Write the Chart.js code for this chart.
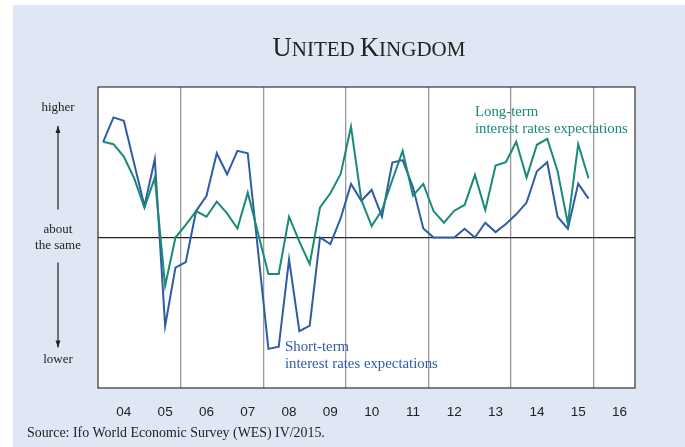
<!DOCTYPE html>
<html>
<head>
<meta charset="utf-8">
<script src="https://cdn.jsdelivr.net/npm/chart.js@4"></script>
<style>
  html, body { margin: 0; padding: 0; background: #ffffff; }
  canvas { display: block; }
</style>
</head>
<body>
<canvas id="chart" width="685" height="447"></canvas>
<script>
// Year tick labels (one per calendar year on the axis)
const yearLabels = ['04', '05', '06', '07', '08', '09', '10', '11', '12', '13', '14', '15', '16'];

// Quarterly WES expectation balances, 2004 Q1 - 2015 Q4
const shortTermRates = [
  31.8, 39.9, 38.8, 24.6, 10.5, 26.0, -29.4, -10.0,
  -8.2, 8.8, 13.8, 28.0, 21.0, 28.8, 28.0, -4.5,
  -37.0, -36.3, -7.3, -31.1, -29.3, 0.0, -2.2, 6.4,
  17.8, 12.2, 15.8, 6.9, 24.9, 25.7, 16.7, 3.0,
  0.0, 0.0, 0.0, 2.9, 0.0, 4.9, 1.8, 4.5,
  7.7, 11.6, 22.0, 25.0, 6.9, 2.9, 17.9, 12.9
];
const longTermRates = [
  31.8, 31.0, 26.9, 19.7, 9.9, 19.9, -16.1, 0.0,
  4.2, 8.8, 6.9, 11.9, 8.0, 3.0, 14.9, 1.4,
  -12.1, -12.1, 6.9, -1.4, -8.9, 10.0, 14.7, 21.1,
  36.8, 12.5, 3.8, 9.1, 19.1, 28.8, 13.9, 17.8,
  8.7, 4.9, 8.9, 10.8, 20.8, 9.1, 23.9, 25.0,
  31.8, 19.9, 30.8, 32.8, 22.1, 4.6, 31.0, 19.7
];

// Verbal y-axis markers and the value each one sits at
const levelLabels = ['lower', ['about', 'the same'], 'higher'];
const levelValues = [-40.5, 0, 43];

const QUARTERS = 4;
const xMin = -0.5;
const xMax = yearLabels.length * QUARTERS - 0.5;

const COL_SHORT = '#2e5ca8';
const COL_LONG = '#178a79';
const SERIF = '"Liberation Serif", "Times New Roman", serif';
const SANS = '"Liberation Sans", Arial, sans-serif';

// Background panel, frame, title, y markers with arrows, series captions and source line
const decor = {
  id: 'decor',
  beforeDraw(chart) {
    const { ctx, chartArea: a, width, height } = chart;
    ctx.save();
    ctx.fillStyle = '#ffffff';
    ctx.fillRect(0, 0, width, height);
    ctx.fillStyle = '#e0e7f4';
    ctx.fillRect(13, 5, width - 13, height - 5);
    ctx.fillStyle = '#ffffff';
    ctx.fillRect(a.left, a.top, a.right - a.left, a.bottom - a.top);
    ctx.restore();
  },
  afterDraw(chart) {
    const { ctx, chartArea: a } = chart;
    const y = chart.scales.y;
    ctx.save();

    // plot frame
    ctx.strokeStyle = '#333333';
    ctx.lineWidth = 1.2;
    ctx.strokeRect(a.left, a.top, a.right - a.left, a.bottom - a.top);

    // title in small capitals
    const parts = [['U', 26.5], ['NITED ', 21], ['K', 26.5], ['INGDOM', 21]];
    let total = 0;
    parts.forEach(([t, s]) => { ctx.font = s + 'px ' + SERIF; total += ctx.measureText(t).width; });
    let tx = 369 - total / 2;
    ctx.fillStyle = '#222222';
    ctx.textBaseline = 'alphabetic';
    ctx.textAlign = 'left';
    parts.forEach(([t, s]) => { ctx.font = s + 'px ' + SERIF; ctx.fillText(t, tx, 56); tx += ctx.measureText(t).width; });

    // verbal markers on the value axis
    const ax = 58;
    ctx.font = '13px ' + SERIF;
    ctx.textAlign = 'center';
    ctx.textBaseline = 'middle';
    ctx.fillStyle = '#222222';
    levelLabels.forEach((lab, i) => {
      const py = y.getPixelForValue(levelValues[i]);
      const lines = Array.isArray(lab) ? lab : [lab];
      const lh = 16;
      lines.forEach((ln, j) => ctx.fillText(ln, ax, py + (j - (lines.length - 1) / 2) * lh));
    });

    // arrows beside the markers
    const arrow = (y0, y1) => {
      ctx.strokeStyle = '#222222';
      ctx.lineWidth = 1.2;
      ctx.beginPath(); ctx.moveTo(ax, y0); ctx.lineTo(ax, y1); ctx.stroke();
      const d = y1 < y0 ? 1 : -1;
      ctx.fillStyle = '#222222';
      ctx.beginPath();
      ctx.moveTo(ax, y1);
      ctx.lineTo(ax - 2.5, y1 + d * 7);
      ctx.lineTo(ax + 2.5, y1 + d * 7);
      ctx.closePath(); ctx.fill();
    };
    const zero = y.getPixelForValue(0);
    arrow(zero - 28, y.getPixelForValue(levelValues[2]) + 18);
    arrow(zero + 25, y.getPixelForValue(levelValues[0]) - 12);

    // series captions
    ctx.font = '14.8px ' + SERIF;
    ctx.textBaseline = 'middle';
    ctx.textAlign = 'left';
    ctx.fillStyle = COL_LONG;
    ctx.fillText('Long-term', 475, 112);
    ctx.fillText('interest rates expectations', 475, 129);
    ctx.fillStyle = COL_SHORT;
    ctx.fillText('Short-term', 285, 347);
    ctx.fillText('interest rates expectations', 285, 364);

    // source line
    ctx.font = '13.9px ' + SERIF;
    ctx.fillStyle = '#222222';
    ctx.fillText('Source: Ifo World Economic Survey (WES) IV/2015.', 27, 433);
    ctx.restore();
  }
};

const toPoints = arr => arr.map((v, i) => ({ x: i, y: v }));

new Chart(document.getElementById('chart'), {
  type: 'line',
  data: {
    datasets: [
      { label: 'Long-term interest rates expectations', data: toPoints(longTermRates),
        borderColor: COL_LONG, borderWidth: 2, pointRadius: 0, tension: 0, fill: false },
      { label: 'Short-term interest rates expectations', data: toPoints(shortTermRates),
        borderColor: COL_SHORT, borderWidth: 2, pointRadius: 0, tension: 0, fill: false }
    ]
  },
  options: {
    responsive: false,
    animation: false,
    devicePixelRatio: 1,
    layout: { padding: { left: 18, top: 87, right: 50, bottom: 29 } },
    plugins: { legend: { display: false }, tooltip: { enabled: false }, title: { display: false } },
    scales: {
      x: {
        type: 'linear', min: xMin, max: xMax,
        afterBuildTicks: s => { s.ticks = yearLabels.map((l, k) => ({ value: k * QUARTERS + 2 })); },
        afterFit: s => { s.height = 30; },
        ticks: {
          callback: (v, i) => yearLabels[i],
          autoSkip: false, maxRotation: 0, padding: 8,
          color: '#222222', font: { family: SANS, size: 13.5 }
        },
        grid: { display: false },
        border: { display: false }
      },
      xg: {
        type: 'linear', position: 'top', min: xMin, max: xMax,
        afterBuildTicks: s => {
          const t = [];
          for (let k = 2; k < yearLabels.length; k += 2) t.push({ value: k * QUARTERS - 0.5 });
          s.ticks = t;
        },
        afterFit: s => { s.height = 0; },
        ticks: { display: false },
        grid: { color: '#9a9a9a', lineWidth: 1.3, drawTicks: false },
        border: { display: false }
      },
      y: {
        min: -50, max: 50,
        afterBuildTicks: s => { s.ticks = levelValues.map(v => ({ value: v })); },
        afterFit: s => { s.width = 80; },
        ticks: { display: false },
        grid: {
          drawTicks: false,
          color: c => (c.tick && c.tick.value === 0 ? '#222222' : 'rgba(0,0,0,0)'),
          lineWidth: 1.2
        },
        border: { display: false }
      }
    }
  },
  plugins: [decor]
});
</script>
</body>
</html>
